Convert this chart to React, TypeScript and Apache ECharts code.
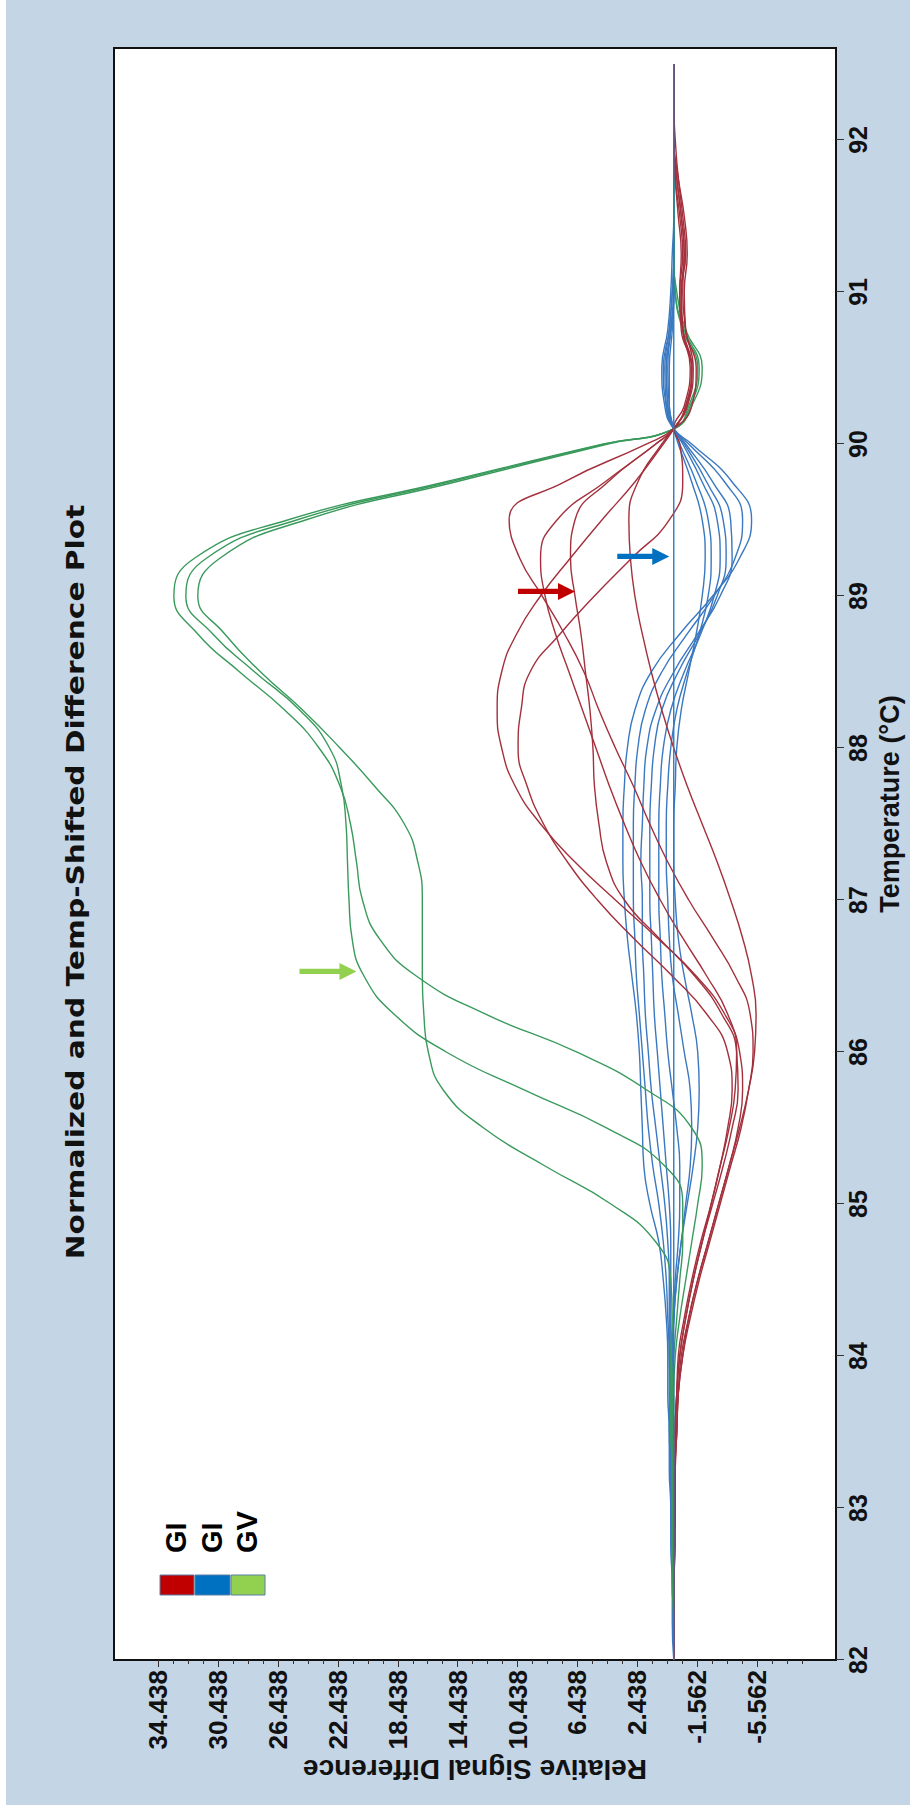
import React, { useEffect, useRef } from "react";
import * as echarts from "echarts";

// ---------- data ----------
const TEMPS = [82, 82.25, 82.5, 82.75, 83, 83.25, 83.5, 83.75, 84, 84.25, 84.5, 84.75, 85, 85.25, 85.5, 85.75, 86, 86.25, 86.5, 86.75, 87, 87.25, 87.5, 87.75, 88, 88.25, 88.5, 88.75, 89, 89.25, 89.5, 89.75, 90, 90.1, 90.25, 90.5, 90.75, 91, 91.25, 91.5, 91.75, 92, 92.25, 92.5];

// GV (green)
const GV_1 = [0, 0, 0.1, 0.1, 0.1, 0.1, 0.2, 0.2, 0.2, 0.1, 0.2, 1.2, 4.2, 8.6, 12.7, 15.4, 16.4, 16.7, 16.8, 16.8, 16.8, 17.1, 18.0, 20.0, 22.3, 24.8, 27.6, 30.0, 31.8, 30.3, 24.6, 14.6, 4.4, 0, -1.1, -1.7, -0.7, -0.1, 0, 0, 0, 0, 0, 0];
const GV_2 = [0, 0, 0, 0.1, 0.1, 0.1, 0.1, 0.1, 0, -0.2, -0.4, -0.6, -0.6, 0.6, 4.5, 10.0, 15.2, 18.7, 20.7, 21.5, 21.7, 21.8, 21.9, 22.2, 23.0, 25.0, 28.0, 30.8, 32.6, 31.2, 25.2, 15.0, 4.6, 0, -1.2, -1.9, -0.8, -0.2, 0, 0, 0, 0, 0, 0];
const GV_3 = [0, 0, 0, 0, 0.1, 0.1, 0, 0, -0.1, -0.4, -0.8, -1.2, -1.6, -1.9, -1.2, 1.8, 6.5, 12.6, 17.2, 19.7, 20.8, 21.2, 21.6, 22.3, 23.7, 26.0, 29.0, 31.8, 33.4, 32.0, 25.8, 15.3, 4.7, 0, -1.0, -1.6, -0.6, -0.1, 0, 0, 0, 0, 0, 0];

// GI (red)
const GI_RED_1 = [0, 0, 0, -0.1, -0.1, -0.1, -0.2, -0.3, -0.5, -1.0, -1.6, -2.3, -3.0, -3.7, -4.3, -4.6, -4.4, -3.4, -1.5, 1.1, 3.9, 6.6, 8.9, 10.6, 11.5, 11.8, 11.5, 10.5, 8.9, 6.9, 4.8, 2.6, 0.7, 0, -0.9, -1.3, -0.8, -0.6, -0.7, -0.5, -0.2, 0, 0, 0];
const GI_RED_2 = [0, 0, 0, 0, -0.1, -0.1, -0.1, -0.2, -0.3, -0.7, -1.2, -1.8, -2.5, -3.1, -3.6, -3.9, -3.6, -2.2, 0.1, 2.7, 5.1, 7.1, 8.7, 9.8, 10.4, 10.2, 9.6, 7.6, 5.3, 2.8, 0.3, -0.6, -0.4, 0, -0.7, -1.1, -0.6, -0.5, -0.8, -0.6, -0.3, -0.1, 0, 0];
const GI_RED_3 = [0, 0, 0, 0, -0.1, -0.1, -0.2, -0.3, -0.6, -1.1, -1.7, -2.4, -3.1, -3.8, -4.5, -5.0, -5.3, -5.1, -4.1, -2.6, -1.0, 0.4, 1.6, 2.7, 3.9, 5.0, 6.0, 7.3, 8.8, 10.3, 11.0, 7.3, 1.8, 0, -1.2, -1.5, -0.8, -0.7, -0.9, -0.7, -0.3, 0, 0, 0];
const GI_RED_4 = [0, 0, 0, 0, 0, -0.1, -0.1, -0.2, -0.4, -0.8, -1.3, -1.9, -2.6, -3.3, -3.9, -4.3, -4.2, -3.2, -1.4, 1.0, 3.3, 4.5, 5.0, 5.3, 5.4, 5.6, 5.9, 6.2, 6.6, 6.9, 6.6, 4.4, 1.2, 0, -0.8, -1.2, -0.5, -0.4, -0.6, -0.4, -0.1, 0, 0, 0];
const GI_RED_5 = [0, 0, 0, 0, -0.1, -0.1, -0.2, -0.3, -0.6, -1.0, -1.6, -2.3, -3.0, -3.7, -4.4, -5.0, -5.4, -5.5, -5.2, -4.6, -3.8, -2.9, -1.9, -0.9, 0, 0.8, 1.5, 2.1, 2.6, 2.9, 3.0, 2.4, 0.8, 0, -0.9, -1.2, -0.6, -0.5, -0.7, -0.5, -0.2, 0, 0, 0];
const GI_RED_6 = [0, 0, 0, 0, 0, -0.1, -0.1, -0.2, -0.4, -0.8, -1.3, -1.9, -2.5, -3.1, -3.7, -4.1, -4.2, -3.6, -2.2, -0.6, 0.9, 2.2, 3.3, 4.3, 5.2, 6.1, 7.0, 7.9, 8.6, 8.9, 7.8, 4.6, 1.2, 0, -0.8, -1.2, -0.6, -0.4, -0.5, -0.3, -0.1, 0, 0, 0];

// GI (blue)
const GI_BLUE_1 = [0, 0.1, 0.1, 0.2, 0.2, 0.3, 0.3, 0.4, 0.4, 0.5, 0.7, 1.0, 1.6, 2.0, 2.1, 2.2, 2.3, 2.5, 2.8, 3.1, 3.3, 3.4, 3.4, 3.3, 3.1, 2.6, 1.5, -0.4, -2.6, -4.4, -5.2, -3.9, -1.2, 0, 0.6, 0.8, 0.4, 0.2, 0.1, 0, 0, 0, 0, 0];
const GI_BLUE_2 = [0, 0, 0.1, 0.1, 0.2, 0.2, 0.3, 0.3, 0.3, 0.4, 0.5, 0.7, 1.0, 1.4, 1.7, 1.9, 2.1, 2.3, 2.5, 2.6, 2.7, 2.7, 2.7, 2.6, 2.4, 1.9, 0.8, -0.9, -2.7, -4.1, -4.6, -3.4, -1.0, 0, 0.5, 0.7, 0.3, 0.1, 0, 0, 0, 0, 0, 0];
const GI_BLUE_3 = [0, 0, 0, 0.1, 0.1, 0.2, 0.2, 0.2, 0.3, 0.3, 0.3, 0.4, 0.6, 0.9, 1.2, 1.5, 1.7, 1.9, 2.0, 2.1, 2.1, 2.2, 2.1, 2.0, 1.8, 1.2, 0.0, -1.6, -3.1, -3.9, -3.8, -2.6, -0.8, 0, 0.5, 0.6, 0.3, 0.1, 0, 0, 0, 0, 0, 0];
const GI_BLUE_4 = [0, 0, 0, 0.1, 0.1, 0.1, 0.2, 0.2, 0.2, 0.2, 0.2, 0.2, 0.3, 0.5, 0.7, 0.9, 1.1, 1.3, 1.4, 1.5, 1.6, 1.6, 1.6, 1.5, 1.3, 0.8, -0.3, -1.7, -2.9, -3.5, -3.3, -2.2, -0.7, 0, 0.4, 0.5, 0.2, 0, 0, 0, 0, 0, 0, 0];
const GI_BLUE_5 = [0, 0, 0, 0, 0.1, 0.1, 0.1, 0.1, 0.1, 0, -0.1, -0.3, -0.4, -0.4, -0.2, 0.1, 0.4, 0.6, 0.8, 0.9, 1.0, 1.0, 1.0, 0.9, 0.7, 0.2, -0.7, -1.8, -2.7, -3.1, -2.9, -1.9, -0.6, 0, 0.4, 0.5, 0.2, 0, 0, 0, 0, 0, 0, 0];
const GI_BLUE_6 = [0, 0, 0, 0, 0, 0.1, 0.1, 0.1, 0.1, 0, -0.2, -0.5, -0.8, -1.1, -1.2, -1.1, -0.7, -0.3, 0.1, 0.3, 0.4, 0.5, 0.5, 0.4, 0.2, -0.2, -0.9, -1.7, -2.3, -2.5, -2.3, -1.5, -0.4, 0, 0.3, 0.4, 0.2, 0, 0, 0, 0, 0, 0, 0];
const GI_BLUE_7 = [0, 0, 0, 0, 0, 0, 0, 0.1, 0.1, 0, -0.2, -0.5, -0.9, -1.3, -1.6, -1.7, -1.6, -1.2, -0.7, -0.3, -0.1, 0, 0, -0.1, -0.2, -0.5, -1.0, -1.5, -1.9, -2.1, -1.9, -1.2, -0.3, 0, 0.3, 0.3, 0.1, 0, 0, 0, 0, 0, 0, 0];
const REFERENCE = [0, 0, 0, 0, 0, 0, 0, 0, 0, 0, 0, 0, 0, 0, 0, 0, 0, 0, 0, 0, 0, 0, 0, 0, 0, 0, 0, 0, 0, 0, 0, 0, 0, 0, 0, 0, 0, 0, 0, 0, 0, 0, 0, 0];

// axes
const TEMP_TICKS = [82, 83, 84, 85, 86, 87, 88, 89, 90, 91, 92];
const SIGNAL_TICKS = [34.438, 30.438, 26.438, 22.438, 18.438, 14.438, 10.438, 6.438, 2.438, -1.562, -5.562];
const SIGNAL_MIN = -10.84;
const SIGNAL_MAX = 37.4;
const TEMP_MIN = 82;
const TEMP_MAX = 92.605;

// texts
const TITLE = "Normalized and Temp-Shifted Difference Plot";
const X_NAME = "Temperature (°C)";
const Y_NAME = "Relative Signal Difference";
const LEGEND_LABELS = ["GI", "GI", "GV"];
const LEGEND_COLORS = ["#c00000", "#0070c0", "#92d050"];

// annotation arrows: tip position in data coordinates
const ARROW_TEMPS = [86.53, 89.03, 89.26];
const ARROW_SIGNALS = [21.2, 6.6, 0.3];
const ARROW_COLORS = ["#92d050", "#c00000", "#0070c0"];
const ARROW_LENGTHS = [57, 57, 52];

const GREEN_SERIES = [GV_1, GV_2, GV_3];
const RED_SERIES = [GI_RED_1, GI_RED_2, GI_RED_3, GI_RED_4, GI_RED_5, GI_RED_6];
const BLUE_SERIES = [GI_BLUE_1, GI_BLUE_2, GI_BLUE_3, GI_BLUE_4, GI_BLUE_5, GI_BLUE_6, GI_BLUE_7];

const SANS = "'Liberation Sans', Arial, sans-serif";

export default function App() {
  const ref = useRef<HTMLDivElement>(null);

  useEffect(() => {
    const el = ref.current;
    if (!el) return;
    const chart = echarts.init(el, null, { renderer: "svg" });

    const pairs = (vals: number[]) => TEMPS.map((t, i) => [t, vals[i]]);
    const mk = (name: string, vals: number[], color: string, width: number, z: number) => ({
      name,
      type: "line",
      data: pairs(vals),
      xAxisIndex: 0,
      yAxisIndex: 0,
      symbol: "none",
      showSymbol: false,
      smooth: 0.5,
      silent: true,
      z,
      lineStyle: { color, width },
      itemStyle: { color },
    });

    const series: any[] = [];
    BLUE_SERIES.forEach((v, i) => series.push(mk("GI blue " + (i + 1), v, "#3a78c0", 1.4, 2)));
    GREEN_SERIES.forEach((v, i) => series.push(mk("GV " + (i + 1), v, "#3a9a5c", 1.4, 3)));
    RED_SERIES.forEach((v, i) => series.push(mk("GI red " + (i + 1), v, "#a3303c", 1.4, 4)));
    series.push(mk("Reference", REFERENCE, "#2b7bbf", 1.4, 5));

    const minorTicks: number[] = [];
    SIGNAL_TICKS.forEach((t) => {
      for (let k = 0; k < 4; k++) minorTicks.push(Number((t - k).toFixed(3)));
    });
    minorTicks.push(-6.562, -7.562);

    chart.setOption({
      animation: false,
      backgroundColor: "#ffffff",
      grid: {
        left: 154,
        right: 48,
        top: 114,
        bottom: 74,
        show: true,
        backgroundColor: "#ffffff",
        borderColor: "#111111",
        borderWidth: 2,
        containLabel: false,
        outerBoundsMode: "none",
      },
      xAxis: [
        {
          type: "value",
          min: TEMP_MIN,
          max: TEMP_MAX,
          position: "bottom",
          axisLine: { show: true, onZero: false, lineStyle: { color: "#111111", width: 2 } },
          axisTick: { show: true, inside: false, length: 8, customValues: TEMP_TICKS, lineStyle: { color: "#333333", width: 1 } },
          axisLabel: {
            show: true,
            customValues: TEMP_TICKS,
            margin: 9,
            color: "#111111",
            fontFamily: SANS,
            fontWeight: "bold",
            fontSize: 25,
            formatter: (v: number) => String(Math.round(v)),
          },
          splitLine: { show: false },
          name: X_NAME,
          nameLocation: "middle",
          nameGap: 40,
          nameMoveOverlap: false,
          nameTextStyle: { color: "#111111", fontFamily: SANS, fontWeight: "bold", fontSize: 27, padding: [0, 0, 0, 100] },
        },
      ],
      yAxis: [
        {
          type: "value",
          min: SIGNAL_MIN,
          max: SIGNAL_MAX,
          position: "left",
          axisLine: { show: true, onZero: false, lineStyle: { color: "#111111", width: 2 } },
          axisTick: { show: true, inside: false, length: 7, customValues: SIGNAL_TICKS, lineStyle: { color: "#333333", width: 1 } },
          axisLabel: {
            show: true,
            customValues: SIGNAL_TICKS,
            margin: 10,
            color: "#111111",
            fontFamily: SANS,
            fontWeight: "bold",
            fontSize: 26,
            formatter: (v: number) => v.toFixed(3),
          },
          splitLine: { show: false },
          name: Y_NAME,
          nameLocation: "middle",
          nameRotate: 90,
          nameGap: 95,
          nameMoveOverlap: false,
          nameTextStyle: { color: "#111111", fontFamily: SANS, fontWeight: "bold", fontSize: 28 },
        },
        {
          type: "value",
          min: SIGNAL_MIN,
          max: SIGNAL_MAX,
          position: "left",
          offset: 0,
          axisLine: { show: false },
          axisTick: { show: true, inside: false, length: 4, customValues: minorTicks, lineStyle: { color: "#333333", width: 1 } },
          axisLabel: { show: false },
          splitLine: { show: false },
        },
      ],
      series,
    });

    // title scale to match the spaced-out original title width
    let titleScale = 1.15;
    try {
      const ctx = document.createElement("canvas").getContext("2d");
      if (ctx) {
        ctx.font = "bold 24px 'DejaVu Sans'";
        const w = ctx.measureText(TITLE).width;
        if (w > 0) titleScale = 755 / w;
      }
    } catch (e) {
      /* ignore */
    }

    const graphics: any[] = [
      {
        type: "rect",
        z: -100,
        silent: true,
        shape: { x: 9, y: 6, width: 1805, height: 904 },
        style: { fill: "#c4d5e6" },
      },
      {
        type: "text",
        x: 932,
        y: 76,
        scaleX: titleScale,
        silent: true,
        style: {
          text: TITLE,
          fill: "#111111",
          fontFamily: "'DejaVu Sans', sans-serif",
          fontWeight: "bold",
          fontSize: 24,
          textAlign: "center",
          textVerticalAlign: "middle",
        },
      },
    ];

    const boxTops = [160, 195, 231];
    const boxHeights = [34, 35, 34];
    LEGEND_LABELS.forEach((lab, i) => {
      graphics.push({
        type: "rect",
        silent: true,
        shape: { x: 219, y: boxTops[i], width: 20, height: boxHeights[i] },
        style: { fill: LEGEND_COLORS[i], stroke: "#5b7fa6", lineWidth: 1 },
      });
      graphics.push({
        type: "text",
        silent: true,
        x: 261,
        y: boxTops[i] + boxHeights[i] / 2 - 1,
        style: {
          text: lab,
          fill: "#000000",
          fontFamily: SANS,
          fontWeight: "bold",
          fontSize: 29,
          textAlign: "left",
          textVerticalAlign: "middle",
        },
      });
    });

    ARROW_TEMPS.forEach((t, i) => {
      const p = chart.convertToPixel({ xAxisIndex: 0, yAxisIndex: 0 }, [t, ARROW_SIGNALS[i]]) as number[];
      if (!p) return;
      const [tx, ty] = p;
      const L = ARROW_LENGTHS[i];
      graphics.push({
        type: "polygon",
        silent: true,
        z: 50,
        shape: {
          points: [
            [tx, ty],
            [tx - 8.5, ty - 17],
            [tx - 2.6, ty - 17],
            [tx - 2.6, ty - L],
            [tx + 2.6, ty - L],
            [tx + 2.6, ty - 17],
            [tx + 8.5, ty - 17],
          ],
        },
        style: { fill: ARROW_COLORS[i] },
      });
    });

    chart.setOption({ graphic: graphics });

    return () => {
      chart.dispose();
    };
  }, []);

  return (
    <div
      style={{
        position: "absolute",
        left: 0,
        top: 0,
        width: 910,
        height: 1814,
        overflow: "hidden",
        background: "#ffffff",
      }}
    >
      <div
        ref={ref}
        style={{
          position: "absolute",
          left: 0,
          top: 0,
          width: 1814,
          height: 910,
          transformOrigin: "0 0",
          transform: "translateY(1814px) rotate(-90deg)",
        }}
      />
    </div>
  );
}
